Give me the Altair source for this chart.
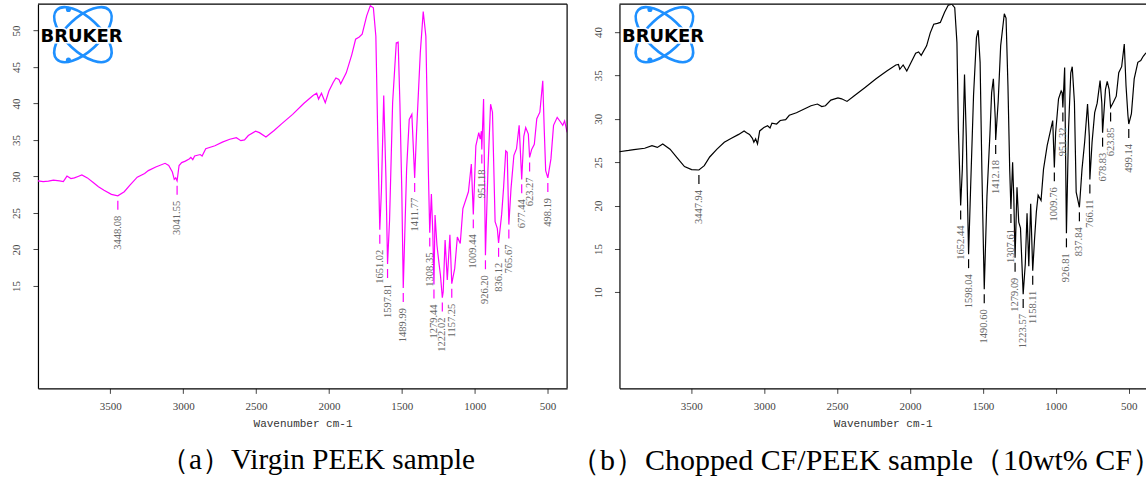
import altair as alt
import pandas as pd

# ---------------- Virgin PEEK: FTIR transmittance spectrum ----------------
wn_a = [3996, 3960, 3924, 3890, 3848, 3822, 3797, 3770, 3746, 3721,
        3695, 3657, 3619, 3581, 3543, 3492, 3448.08, 3404, 3365, 3315,
        3264, 3239, 3188, 3124, 3099, 3074, 3061, 3051, 3041.55, 3028,
        3010, 2985, 2959, 2947, 2934, 2921, 2883, 2870, 2845, 2782,
        2731, 2680, 2635, 2604, 2579, 2553, 2503, 2477, 2432, 2376,
        2325, 2249, 2173, 2109, 2084, 2071, 2051, 2025, 2000, 1970,
        1952, 1932, 1919, 1881, 1843, 1817, 1792, 1772, 1741, 1716,
        1695, 1678, 1665, 1651.02, 1640, 1624, 1609, 1597.81, 1584, 1563,
        1538, 1525, 1513, 1500, 1489.99, 1467, 1449, 1431, 1411.77, 1399,
        1373, 1353, 1335, 1317, 1308.35, 1297, 1287, 1279.44, 1272, 1259,
        1246, 1235, 1222.02, 1216, 1203, 1188, 1170, 1157.25, 1137, 1119,
        1099, 1081, 1043, 1023, 1009.44, 992, 972, 962, 954, 951.18,
        939, 926.20, 909, 891, 878, 860, 845, 836.12, 815, 802,
        787, 777, 765.67, 751, 731, 713, 695, 677.44, 663, 650,
        632, 623.27, 609, 591, 574, 553, 533, 523, 513, 498.19,
        477, 459, 434, 416, 396, 383, 366]
tr_a = [29.4, 29.3, 29.35, 29.5, 29.4, 29.3, 30.05, 29.7, 29.8, 30.0,
        30.2, 29.8, 29.2, 28.6, 28.1, 27.55, 27.35, 27.9, 28.8, 29.9,
        30.4, 30.8, 31.3, 31.8, 31.5, 30.6, 29.6, 29.8, 29.4, 31.5,
        31.9, 32.1, 32.4, 32.6, 32.3, 32.8, 33.0, 32.8, 33.8, 34.2,
        34.7, 35.1, 35.3, 34.9, 35.0, 35.6, 36.2, 36.0, 35.4, 36.3,
        37.2, 38.5, 40.0, 41.1, 41.4, 40.6, 41.4, 40.1, 41.7, 42.9,
        43.5, 43.3, 42.7, 44.2, 46.7, 48.8, 49.1, 49.5, 52.0, 53.4,
        53.1, 49.2, 35.6, 22.7, 28.0, 41.1, 30.0, 18.0, 24.0, 40.1,
        48.3, 48.4, 40.0, 28.0, 14.7, 31.0, 37.8, 38.5, 29.8, 36.0,
        47.0, 52.6, 49.2, 30.0, 22.3, 27.6, 22.0, 15.2, 24.7, 20.6,
        18.3, 16.5, 13.4, 14.2, 21.3, 15.8, 22.0, 15.3, 17.4, 21.7,
        20.8, 25.6, 27.9, 31.7, 24.8, 34.2, 36.0, 35.1, 36.2, 33.7,
        40.6, 19.2, 31.0, 39.9, 38.8, 23.8, 22.9, 20.9, 24.8, 28.4,
        33.5, 33.3, 23.4, 28.3, 32.9, 33.8, 37.0, 29.6, 35.5, 36.7,
        35.8, 32.6, 33.7, 34.4, 37.9, 38.8, 43.1, 36.5, 30.8, 29.8,
        32.4, 37.0, 38.1, 37.6, 37.0, 37.6, 36.05]
peaks_a = [3448.08, 3041.55, 1651.02, 1597.81, 1489.99, 1411.77, 1308.35,
           1279.44, 1222.02, 1157.25, 1009.44, 951.18, 926.20, 836.12,
           765.67, 677.44, 623.27, 498.19]

# ---------------- Chopped CF/PEEK (10 wt% CF) ----------------
wn_b = [3995, 3930, 3894, 3820, 3770, 3733, 3696, 3646, 3597, 3547,
        3498, 3447.94, 3411, 3374, 3324, 3274, 3225, 3175, 3138, 3121,
        3101, 3081, 3071, 3059, 3046, 3031, 3002, 2977, 2960, 2947,
        2915, 2890, 2853, 2828, 2779, 2729, 2679, 2635, 2605, 2580,
        2543, 2494, 2469, 2432, 2382, 2308, 2233, 2159, 2097, 2079,
        2070, 2047, 2022, 1998, 1961, 1941, 1923, 1886, 1861, 1837,
        1812, 1792, 1762, 1737, 1713, 1693, 1678, 1668, 1652.44, 1641,
        1626, 1614, 1598.04, 1584, 1564, 1544, 1532, 1519, 1507, 1490.60,
        1472, 1452, 1440, 1428, 1415, 1412.18, 1395, 1378, 1353, 1341,
        1328, 1316, 1307.61, 1296, 1288, 1279.09, 1266, 1254, 1242, 1223.57,
        1209, 1197, 1185, 1172, 1158.11, 1145, 1133, 1121, 1101, 1084,
        1059, 1034, 1021, 1009.76, 1001, 981, 963, 956, 951.32, 939,
        926.81, 912, 897, 887, 872, 860, 837.84, 820, 802, 782,
        770, 766.11, 751, 733, 716, 696, 684, 678.83, 659, 647,
        634, 623.85, 605, 585, 568, 548, 530, 518, 505, 499.14,
        481, 462, 437, 417, 400, 381]
tr_b = [26.2, 26.35, 26.45, 26.6, 26.9, 26.7, 27.1, 26.5, 25.5, 24.5,
        24.15, 24.1, 24.6, 25.6, 26.5, 27.3, 27.75, 28.2, 28.6, 28.4,
        28.2, 27.75, 27.3, 27.7, 27.1, 28.6, 29.0, 29.2, 28.95, 29.5,
        29.4, 29.8, 29.9, 30.4, 30.7, 31.1, 31.5, 31.7, 31.4, 31.5,
        32.15, 32.4, 32.3, 32.0, 32.65, 33.6, 34.6, 35.5, 36.2, 36.25,
        35.7, 36.2, 35.5, 36.3, 37.55, 37.7, 37.3, 38.4, 39.9, 40.9,
        41.0, 41.1, 42.3, 43.1, 43.2, 42.8, 38.8, 28.8, 20.0, 24.2,
        35.1, 28.0, 14.4, 22.1, 32.7, 39.35, 40.2, 36.5, 24.2, 10.35,
        21.1, 28.1, 33.0, 34.6, 30.0, 27.55, 32.0, 38.4, 42.1, 41.6,
        33.8, 24.2, 19.6, 25.0, 21.0, 14.0, 22.1, 18.1, 17.4, 9.8,
        13.3, 19.1, 13.0, 20.2, 12.5, 16.3, 19.3, 21.2, 20.6, 24.2,
        26.9, 28.8, 29.8, 24.4, 28.4, 32.3, 33.2, 33.0, 31.3, 35.9,
        16.8, 29.0, 35.3, 36.0, 31.9, 21.55, 19.8, 24.2, 27.3, 31.7,
        28.0, 23.0, 27.3, 30.7, 31.8, 34.4, 31.8, 28.4, 33.4, 34.3,
        33.4, 31.3, 31.9, 32.6, 35.3, 36.0, 38.6, 33.8, 30.4, 29.4,
        30.6, 34.6, 36.5, 36.7, 37.2, 37.6]
peaks_b = [3447.94, 1652.44, 1598.04, 1490.60, 1412.18, 1307.61, 1279.09,
           1223.57, 1158.11, 1009.76, 951.32, 926.81, 837.84, 766.11,
           678.83, 623.85, 499.14]

x_ticks = [3500, 3000, 2500, 2000, 1500, 1000, 500]
y_ticks_a = [15, 20, 25, 30, 35, 40, 45, 50]
y_ticks_b = [10, 15, 20, 25, 30, 35, 40]

caption_a = "（a）Virgin PEEK sample"
caption_b = "（b）Chopped CF/PEEK sample（10wt% CF）"

SERIF = "Liberation Serif"
MONO = "Liberation Mono"
BLUE = "#1E90FF"
PLOT_H = 384.5


def bruker_logo():
    """Crossed-orbit atom with the BRUKER word mark, pinned to the top-left."""
    one = alt.Chart(pd.DataFrame({"k": [0]}))
    orbit = "M -1 0 A 1 0.47 0 1 1 1 0 A 1 0.47 0 1 1 -1 0 Z"
    layers = []
    for ang in (43, 137):
        layers.append(
            one.mark_point(shape=orbit, size=5184, angle=ang, filled=False,
                           stroke=BLUE, strokeWidth=2.6, opacity=1)
            .encode(x=alt.value(45), y=alt.value(30.5))
        )
    for yy in (5.2, 55.8):
        layers.append(
            one.mark_circle(size=26, color=BLUE, opacity=1)
            .encode(x=alt.value(30.5), y=alt.value(yy))
        )
    for col, sw in (("white", 3), ("black", 0)):
        layers.append(
            one.mark_text(text="BRUKER", font="DejaVu Sans", fontSize=18,
                          fontWeight="bold", align="center", baseline="alphabetic",
                          color=col, stroke=col, strokeWidth=sw)
            .encode(x=alt.value(43.6), y=alt.value(37.7))
        )
    return layers


def panel(wn, tr, peaks, color, xdom, ydom, yticks, width, caption, cap_size,
          cap_anchor, cap_dx, right_edge):
    spec = pd.DataFrame({"wn": wn, "tr": tr})
    level = dict(zip(wn, tr))
    marks = pd.DataFrame({
        "wn": peaks,
        "tr": [level[p] for p in peaks],
        "label": [f"{p:.2f}" for p in peaks],
    })

    x = alt.X("wn:Q", scale=alt.Scale(domain=xdom, nice=False, zero=False),
              axis=alt.Axis(values=x_ticks, title="Wavenumber cm-1", format="d",
                            labelPadding=7, titlePadding=6,
                            titleFont=MONO, titleFontSize=11, titleFontWeight="normal",
                            titleColor="#333"))
    y = alt.Y("tr:Q", scale=alt.Scale(domain=ydom, nice=False, zero=False),
              axis=alt.Axis(values=yticks, title=None, labelAngle=270, labelPadding=11))

    line = alt.Chart(spec).mark_line(color=color, strokeWidth=1.2, clip=True).encode(x=x, y=y)
    dash = alt.Chart(marks).mark_rule(color=color, strokeWidth=1.2, yOffset=5, y2Offset=14).encode(
        x=x, y=y, y2="tr:Q")
    text = alt.Chart(marks).mark_text(angle=270, align="right", baseline="middle", yOffset=20,
                                      font=SERIF, fontSize=10.5, color="#666").encode(
        x=x, y=y, text="label:N")

    one = alt.Chart(pd.DataFrame({"k": [0]}))
    frame = [one.mark_rule(color="black", strokeWidth=1.2).encode(
        x=alt.value(0), x2=alt.value(width), y=alt.value(0))]
    if right_edge:
        frame.append(one.mark_rule(color="black", strokeWidth=1.2).encode(
            x=alt.value(width), y=alt.value(0), y2=alt.value(PLOT_H)))

    return alt.layer(line, dash, text, *frame, *bruker_logo()).properties(
        width=width, height=PLOT_H,
        title=alt.TitleParams(caption, orient="bottom", anchor=cap_anchor, frame="group",
                              font=SERIF, fontSize=cap_size, fontWeight="normal",
                              color="black", offset=18, dx=cap_dx),
    )


left = panel(wn_a, tr_a, peaks_a, "#FF00FF", [3996, 366], [0.96, 53.6], y_ticks_a,
             529.6, caption_a, 29.2, "middle", 15, True)
right = panel(wn_b, tr_b, peaks_b, "black", [3993, 381], [-1.06, 43.2], y_ticks_b,
              527, caption_b, 30, "end", 16, False)

# the closing full-width bracket of the right caption carries trailing blank
# space past the panel edge; the negative right padding trims that blank strip
chart = (
    alt.hconcat(left, right, spacing=52, bounds="flush")
    .properties(padding={"left": 10, "top": 1, "right": -16, "bottom": 0},
                background="white")
    .configure_view(stroke=None)
    .configure_axis(grid=False, domainColor="black", domainWidth=1.2,
                    tickColor="#444", tickSize=5, tickWidth=1,
                    labelColor="#444", labelFont=SERIF, labelFontSize=11,
                    titleFont=MONO, titleFontSize=11, titleColor="#333",
                    titleFontWeight="normal")
)

chart.save("out.html", embed_options={"renderer": "svg", "actions": False})
